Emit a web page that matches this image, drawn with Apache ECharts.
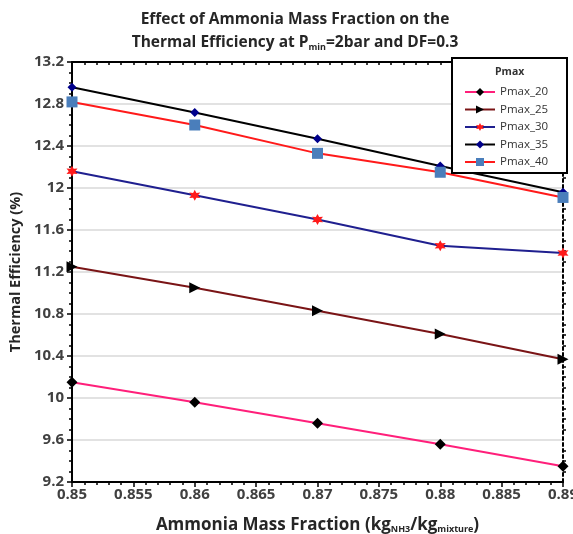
<!DOCTYPE html>
<html><head><meta charset="utf-8">
<script src="https://cdn.jsdelivr.net/npm/echarts@6/dist/echarts.min.js"></script>
<style>html,body{margin:0;padding:0;background:#fff}#c{width:573px;height:534px}</style>
</head><body><div id="c"></div>
<script>
var xValues = [0.85, 0.86, 0.87, 0.88, 0.89];
var pmax20 = [10.15, 9.96, 9.76, 9.56, 9.35];
var pmax25 = [11.25, 11.05, 10.83, 10.61, 10.37];
var pmax30 = [12.16, 11.93, 11.70, 11.45, 11.38];
var pmax35 = [12.96, 12.72, 12.47, 12.21, 11.96];
var pmax40 = [12.82, 12.60, 12.33, 12.15, 11.91];
var seriesNames = ['Pmax_20', 'Pmax_25', 'Pmax_30', 'Pmax_35', 'Pmax_40'];

function pairs(ys){ return xValues.map(function(x,i){ return [x, ys[i]]; }); }
var star = 'path://M0,-10 L2.6,-4.5 L8.7,-5 L5.2,0 L8.7,5 L2.6,4.5 L0,10 L-2.6,4.5 L-8.7,5 L-5.2,0 L-8.7,-5 L-2.6,-4.5 Z';
var font = 'Open Sans, Liberation Sans, sans-serif';

var chart = echarts.init(document.getElementById('c'));
function mkSeries(name, data, lineColor, symbol, symColor, size, rotate){
  return {
    name: name, type: 'line', data: pairs(data), symbol: symbol, symbolSize: size,
    symbolRotate: rotate || 0, showAllSymbol: true,
    lineStyle: {color: lineColor, width: 2},
    itemStyle: {color: symColor, borderWidth: 0},
    emphasis: {disabled: true}, z: 3
  };
}
var axisTextStyle = {color: '#404040', fontWeight: 'bold', fontSize: 15, fontFamily: font};
chart.setOption({
  animation: false,
  backgroundColor: '#fff',
  title: {
    text: '{t|Effect of Ammonia Mass Fraction on the}\n{t|Thermal Efficiency at P}{s|min}{t|=2bar and DF=0.3}',
    left: 290, top: 3, textAlign: 'center',
    textStyle: {
      rich: {
        t: {fontSize: 15.5, fontWeight: 'bold', color: '#262626', fontFamily: font, lineHeight: 23},
        s: {fontSize: 9, fontWeight: 'bold', color: '#262626', fontFamily: font, lineHeight: 23, padding: [9,0,0,0]}
      }
    }
  },
  grid: {left: 72, right: 10, top: 62, bottom: 52, show: false, outerBoundsMode: 'none', containLabel: false},
  legend: {
    data: seriesNames, orient: 'vertical', left: 454, top: 60,
    itemWidth: 30, itemHeight: 10, itemGap: 5.5,
    padding: [26, 8, 8, 10],
    backgroundColor: 'transparent', borderWidth: 0,
    textStyle: {fontSize: 11.5, color: '#333', fontFamily: font},
    z: 10
  },
  graphic: [{
    type: 'rect', z: 8, shape: {x: 452, y: 58, width: 115, height: 115},
    style: {fill: '#fff', stroke: '#000', lineWidth: 2}
  }, {
    type: 'text', left: 495, top: 67, z: 100,
    style: {text: 'Pmax', fontSize: 10.5, fontWeight: 'bold', fill: '#333', fontFamily: font}
  }],
  xAxis: [{
    type: 'value', min: 0.85, max: 0.89, interval: 0.005,
    axisLine: {show: true, lineStyle: {color: '#000', width: 2}},
    axisTick: {show: true, length: 5, lineStyle: {color: '#000', width: 1.5}},
    minorTick: {show: true, splitNumber: 5, length: 3, lineStyle: {color: '#000', width: 1.5}},
    splitLine: {show: false},
    axisLabel: Object.assign({margin: 5, formatter: function(v){ return String(+v.toFixed(3)); }}, axisTextStyle),
    name: '{n|Ammonia Mass Fraction (kg}{s|NH3}{n|/kg}{s|mixture}{n|)}',
    nameLocation: 'middle', nameGap: 34,
    nameTextStyle: {rich: {
      n: {fontSize: 17, fontWeight: 'bold', color: '#262626', fontFamily: font},
      s: {fontSize: 9, fontWeight: 'bold', color: '#262626', fontFamily: font, padding: [9,0,0,0]}
    }}
  }, {
    type: 'value', position: 'top', min: 0.85, max: 0.89, interval: 0.005,
    axisLine: {show: true, lineStyle: {color: '#000', width: 2}},
    axisTick: {show: true, inside: true, length: 3, lineStyle: {color: '#000', width: 1.5}},
    minorTick: {show: true, splitNumber: 5, length: 3, lineStyle: {color: '#000', width: 1.5}},
    axisLabel: {show: false}, splitLine: {show: false}
  }],
  yAxis: [{
    type: 'value', min: 9.2, max: 13.2, interval: 0.4,
    axisLine: {show: true, lineStyle: {color: '#000', width: 2}},
    axisTick: {show: true, length: 5, lineStyle: {color: '#000', width: 1.5}},
    minorTick: {show: true, splitNumber: 4, length: 3, lineStyle: {color: '#000', width: 1.5}},
    splitLine: {show: true, lineStyle: {color: '#d9d9d9', width: 1.5}},
    axisLabel: Object.assign({margin: 8, formatter: function(v){ return String(+v.toFixed(1)); }}, axisTextStyle),
    name: 'Thermal Efficiency (%)', nameLocation: 'middle', nameGap: 48,
    nameTextStyle: {fontSize: 14.5, fontWeight: 'bold', color: '#262626', fontFamily: font}
  }, {
    type: 'value', position: 'right', min: 9.2, max: 13.2, interval: 0.4,
    axisLine: {show: true, lineStyle: {color: '#000', width: 2, type: [3, 3]}},
    axisTick: {show: false},
    minorTick: {show: true, splitNumber: 4, length: 3, lineStyle: {color: '#000', width: 1.5}},
    axisLabel: {show: false}, splitLine: {show: false}
  }],
  series: [
    mkSeries('Pmax_20', pmax20, '#ff1f7a', 'diamond', '#000', 11),
    mkSeries('Pmax_25', pmax25, '#7a1416', 'triangle', '#000', 11, -90),
    mkSeries('Pmax_30', pmax30, '#1f1f8f', star, '#ff1a1a', 11),
    mkSeries('Pmax_35', pmax35, '#000000', 'diamond', '#00008b', 9),
    mkSeries('Pmax_40', pmax40, '#ff1a1a', 'rect', '#4a7ebb', 11)
  ]
});
</script></body></html>
